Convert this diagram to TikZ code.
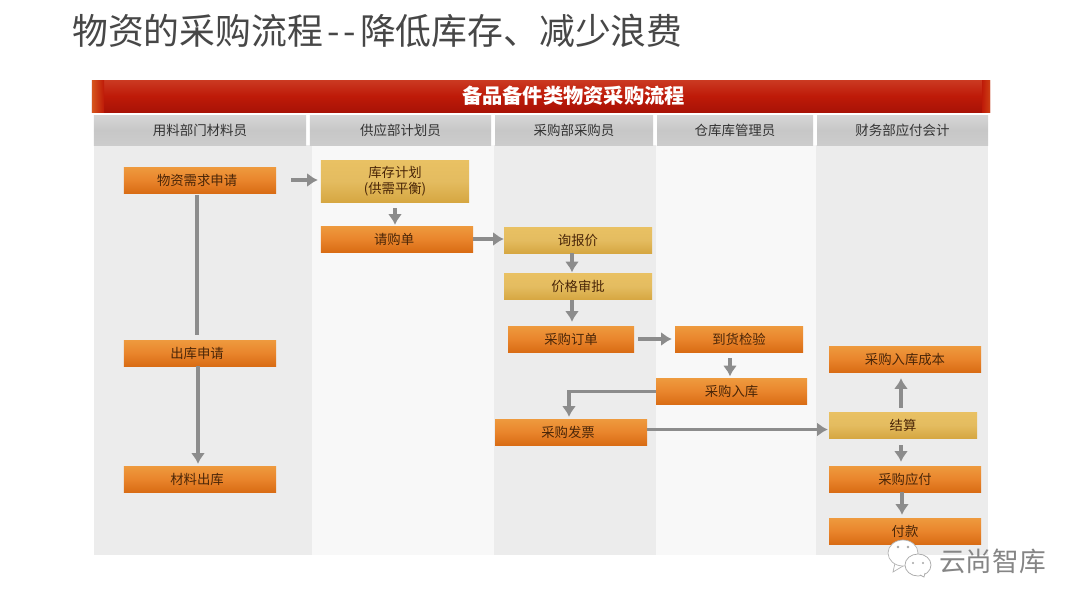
\documentclass[tikz,border=0pt]{standalone}
\usepackage{fontspec}
\setmainfont{Noto Sans CJK SC}
\usepackage{tikz}
\usetikzlibrary{arrows.meta}
\definecolor{bandgray}{HTML}{ECECEC}
\definecolor{bandlight}{HTML}{F8F8F8}
\definecolor{linkgray}{HTML}{8C8C8C}
\definecolor{inktext}{HTML}{4A2608}
\definecolor{orangetop}{HTML}{EE9A3E}
\definecolor{orangemid}{HTML}{E9852C}
\definecolor{orangelow}{HTML}{D96C14}
\definecolor{goldtop}{HTML}{E9C163}
\definecolor{goldmid}{HTML}{E4BC60}
\definecolor{goldlow}{HTML}{D6A742}
\definecolor{redtop}{HTML}{CB3A22}
\definecolor{redmid}{HTML}{BE1A08}
\definecolor{redlow}{HTML}{A81206}
\tikzset{
  flowbox/.style={inner sep=0pt,minimum height=0.78cm,text=inktext,align=center,font=\fontsize{11.4}{14}\selectfont},
  orangebox/.style={flowbox,top color=orangetop,bottom color=orangelow,middle color=orangemid},
  goldbox/.style={flowbox,top color=goldtop,bottom color=goldlow,middle color=goldmid},
  headbox/.style={inner sep=0pt,minimum height=0.9cm,top color=black!16,bottom color=black!20,middle color=black!22,text=black!80,font=\fontsize{11.5}{14}\selectfont},
  offtext/.style={execute at end node=\hspace*{5pt}},
  link/.style={draw=linkgray,line width=2.6pt,-{Latex[length=9pt,width=12pt]}},
  plainlink/.style={draw=linkgray,line width=2.6pt}
}
\begin{document}
\begin{tikzpicture}[x=0.03cm,y=-0.03cm]
  \useasboundingbox (0,0) rectangle (1080,608);
  \fill[white] (0,0) rectangle (1080,608);
  \foreach \xa/\xb/\band in {94/312/bandgray,312/494/bandlight,494/656/bandgray,656/816/bandlight,816/988/bandgray}{\fill[\band] (\xa,145) rectangle (\xb,555);}
  \node[anchor=west,inner sep=0pt,text=black!72,font=\fontsize{30.6}{36}\selectfont] (title) at (72,31) {物资的采购流程\kern3.4pt{-}\kern3.4pt{-}\kern3.4pt 降低库存、减少浪费};
  \node[inner sep=0pt,minimum width=26.94cm,minimum height=0.96cm,top color=redtop,bottom color=redlow,middle color=redmid] (banner) at (541,96) {};
  \fill[left color=redmid!45!orangemid,right color=redmid] (92,80) rectangle (104,112);
  \fill[left color=redmid,right color=redmid!65!orangemid] (982,80) rectangle (990,112);
  \node[inner sep=0pt,text=white,font=\fontsize{17.3}{20}\selectfont\bfseries] (bannertext) at (573.5,96) {备品备件类物资采购流程};

  \node[headbox,minimum width=6.36cm] (headA) at (200,130) {用料部门材料员};
  \node[headbox,minimum width=5.43cm] (headB) at (400.5,130) {供应部计划员};
  \node[headbox,minimum width=4.74cm] (headC) at (574,130) {采购部采购员};
  \node[headbox,minimum width=4.68cm] (headD) at (735,130) {仓库库管理员};
  \node[headbox,minimum width=5.13cm] (headE) at (902.5,130) {财务部应付会计};

  \node[orangebox,offtext,minimum width=4.56cm] (apply) at (200,180) {物资需求申请};
  \node[orangebox,offtext,minimum width=4.56cm] (outreq) at (200,353) {出库申请};
  \node[orangebox,offtext,minimum width=4.56cm] (outstock) at (200,479) {材料出库};
  \node[goldbox,minimum width=4.44cm,minimum height=1.26cm] (plan) at (395,181) {库存计划\\(供需平衡)};
  \node[orangebox,offtext,minimum width=4.56cm] (request) at (397,239) {请购单};
  \node[goldbox,minimum width=4.44cm] (inquiry) at (578,240) {询报价};
  \node[goldbox,minimum width=4.44cm] (approve) at (578,286.5) {价格审批};
  \node[orangebox,minimum width=3.78cm] (order) at (571,339) {采购订单};
  \node[orangebox,minimum width=3.84cm] (check) at (739,339) {到货检验};
  \node[orangebox,minimum width=4.53cm] (instock) at (731.5,391.5) {采购入库};
  \node[orangebox,offtext,minimum width=4.56cm] (invoice) at (571,432) {采购发票};
  \node[orangebox,minimum width=4.56cm] (cost) at (905,359) {采购入库成本};
  \node[goldbox,minimum width=4.44cm] (settle) at (903,425) {结算};
  \node[orangebox,minimum width=4.56cm] (payable) at (905,479) {采购应付};
  \node[orangebox,minimum width=4.56cm] (pay) at (905,531) {付款};

  \draw[link,shorten <=0.45cm,shorten >=0.09cm] (apply.east) -- (apply.east -| plan.west);
  \draw[plainlink,shorten <=0.06cm,shorten >=0.15cm] (apply.south -| 197,180) -- (outreq.north -| 197,180);
  \draw[link,shorten >=0.06cm] (outreq.south -| 198,180) -- (outstock.north -| 198,180);
  \draw[link,shorten <=0.18cm,shorten >=0.03cm] (plan.south) -- (request.north -| plan.south);
  \draw[link] (request.east) -- (request.east -| inquiry.west);
  \draw[link,shorten >=0.03cm] (inquiry.south -| 572,240) -- (approve.north -| 572,240);
  \draw[link,shorten >=0.12cm] (approve.south -| 572,240) -- (order.north -| 572,240);
  \draw[link,shorten <=0.12cm,shorten >=0.09cm] (order.east) -- (order.east -| check.west);
  \draw[link,shorten <=0.18cm,shorten >=0.06cm] (check.south -| 730,339) -- (instock.north -| 730,339);
  \draw[link,shorten >=0.06cm] (instock.west) -| (invoice.north -| 569,0);
  \draw[link,shorten >=0.03cm] (invoice.east |- 0,429.5) -- (settle.west |- 0,429.5);
  \draw[link,shorten <=0.12cm,shorten >=0.18cm] (settle.north -| 901,425) -- (cost.south -| 901,425);
  \draw[link,shorten <=0.21cm,shorten >=0.12cm] (settle.south -| 901,425) -- (payable.north -| 901,425);
  \draw[link,shorten >=0.09cm] (payable.south -| 902,425) -- (pay.north -| 902,425);

  \draw[black!30,line width=0.6pt,fill=white] (895,563) -- (893,572) -- (903,566);
  \draw[black!30,line width=0.6pt,fill=white] (903,553) ellipse (15 and 13);
  \draw[black!35,line width=0.6pt,fill=white] (918,565) ellipse (13 and 11);
  \draw[black!35,line width=0.6pt,fill=white] (920,575) -- (924,577) -- (925,573);
  \fill[black!35] (898,547) circle (1.3) (908,547) circle (1.3) (913,563) circle (1.1) (923,563) circle (1.1);
  \node[anchor=west,inner sep=0pt,text=black!48,font=\fontsize{22.8}{26}\selectfont] (mark) at (939,561) {云尚智库};
\end{tikzpicture}
\end{document}
